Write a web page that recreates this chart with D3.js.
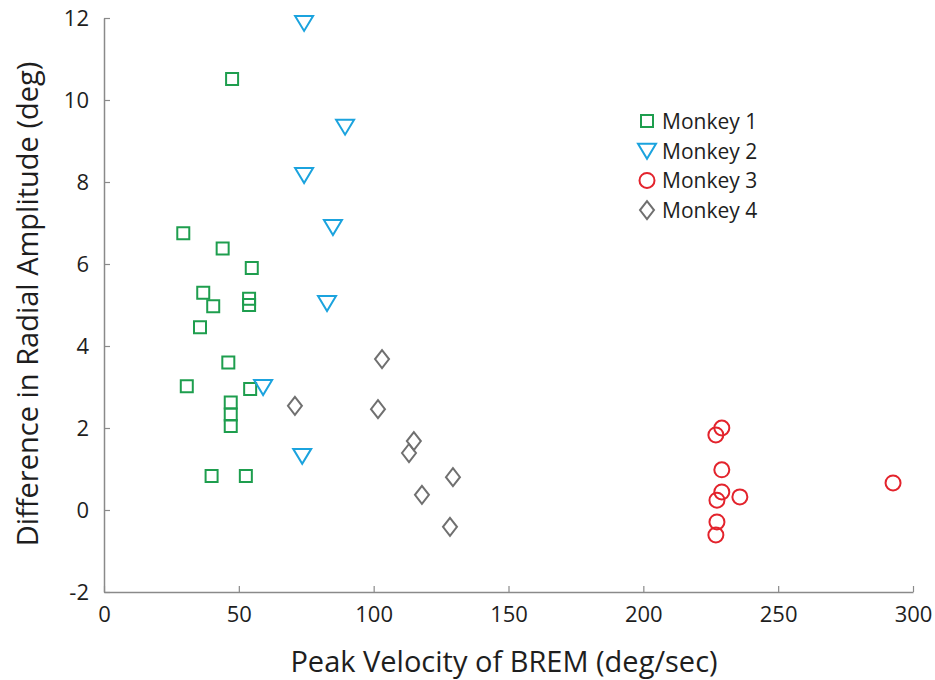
<!DOCTYPE html>
<html>
<head>
<meta charset="utf-8">
<script src="https://cdn.jsdelivr.net/npm/d3@7"></script>
<style>
  body { margin: 0; background: #fff; }
  text { font-family: "Open Sans", "Noto Sans", sans-serif; fill: #1e1e1e; }
</style>
</head>
<body>
<svg id="chart" width="935" height="680"></svg>
<script>
// data: peak velocity (deg/sec) vs radial amplitude difference (deg)
const monkey1X = [47.5, 29.4, 44.0, 54.8, 36.8, 40.5, 53.8, 53.8, 35.6, 46.1, 30.7, 54.2, 47.0, 47.0, 47.0, 39.9, 52.6];
const monkey1Y = [10.51, 6.75, 6.38, 5.9, 5.3, 4.97, 5.15, 5.0, 4.46, 3.6, 3.02, 2.95, 2.62, 2.33, 2.05, 0.83, 0.83];
const monkey2X = [74.2, 89.4, 74.2, 84.9, 82.7, 59.0, 73.5];
const monkey2Y = [11.88, 9.35, 8.17, 6.9, 5.05, 3.0, 1.32];
const monkey3X = [229.1, 226.9, 229.1, 229.1, 227.3, 235.8, 227.3, 226.9, 292.6];
const monkey3Y = [2.0, 1.83, 0.98, 0.44, 0.24, 0.32, -0.29, -0.61, 0.66];
const monkey4X = [70.8, 103.1, 101.6, 114.9, 113.1, 129.4, 117.9, 128.3];
const monkey4Y = [2.54, 3.68, 2.46, 1.68, 1.39, 0.8, 0.37, -0.41];

const seriesNames = ["Monkey 1", "Monkey 2", "Monkey 3", "Monkey 4"];
const xTicks = [0, 50, 100, 150, 200, 250, 300];
const yTicks = [-2, 0, 2, 4, 6, 8, 10, 12];

const colors = ["#1e9e4e", "#1ba3de", "#e3232c", "#707070"];

const svg = d3.select("#chart");

const x = d3.scaleLinear().domain([0, 300]).range([104, 913]);
const y = d3.scaleLinear().domain([-2, 12]).range([592, 18]);

// marker shapes drawn as paths centred at 0,0
function markerPath(i) {
  if (i === 0) return "M-6,-6H6V6H-6Z";
  if (i === 1) return "M-9,-7H9L0,8Z";
  if (i === 2) return "M7.5,0A7.5,7.5 0 1,1 -7.5,0A7.5,7.5 0 1,1 7.5,0Z";
  return "M0,-9L7,0L0,9L-7,0Z";
}

// axes (plain hyphen for negatives, like the original)
const axisColor = "#8a8a8a";
const xAxis = svg.append("g")
  .attr("transform", "translate(0," + y(-2) + ")")
  .call(d3.axisBottom(x).tickValues(xTicks).tickFormat(d => String(d))
    .tickSize(-6).tickSizeOuter(0).tickPadding(11));
const yAxis = svg.append("g")
  .attr("transform", "translate(" + x(0) + ",0)")
  .call(d3.axisLeft(y).tickValues(yTicks).tickFormat(d => String(d))
    .tickSize(-6).tickSizeOuter(0).tickPadding(15));

[xAxis, yAxis].forEach(g => {
  g.select(".domain").attr("stroke", axisColor).attr("stroke-width", 1.5);
  g.selectAll(".tick line").attr("stroke", axisColor).attr("stroke-width", 1.2);
  g.selectAll(".tick text")
    .style("font-family", "'Open Sans', sans-serif")
    .style("font-size", "22px")
    .attr("fill", "#1e1e1e");
});
xAxis.selectAll(".tick text").attr("dy", "0.85em");

// axis titles
svg.append("text")
  .attr("x", 504)
  .attr("y", 672)
  .attr("text-anchor", "middle")
  .style("font-size", "29px")
  .text("Peak Velocity of BREM (deg/sec)");

svg.append("text")
  .attr("transform", "translate(38,304) rotate(-90)")
  .attr("text-anchor", "middle")
  .style("font-size", "29px")
  .text("Difference in Radial Amplitude (deg)");

// points
const allX = [monkey1X, monkey2X, monkey3X, monkey4X];
const allY = [monkey1Y, monkey2Y, monkey3Y, monkey4Y];

allX.forEach((xs, i) => {
  const pts = xs.map((v, j) => ({ vx: v, vy: allY[i][j] }));
  svg.append("g")
    .selectAll("path")
    .data(pts)
    .join("path")
      .attr("d", markerPath(i))
      .attr("transform", d => "translate(" + x(d.vx) + "," + y(d.vy) + ")")
      .attr("fill", "none")
      .attr("stroke", colors[i])
      .attr("stroke-width", 2);
});

// legend
const legend = svg.append("g").attr("transform", "translate(647,121)");
seriesNames.forEach((name, i) => {
  const row = legend.append("g").attr("transform", "translate(0," + (i * 29.7) + ")");
  row.append("path")
    .attr("d", markerPath(i))
    .attr("fill", "none")
    .attr("stroke", colors[i])
    .attr("stroke-width", 2);
  row.append("text")
    .attr("x", 15)
    .attr("y", 8)
    .style("font-size", "21px")
    .text(name);
});
</script>
</body>
</html>
